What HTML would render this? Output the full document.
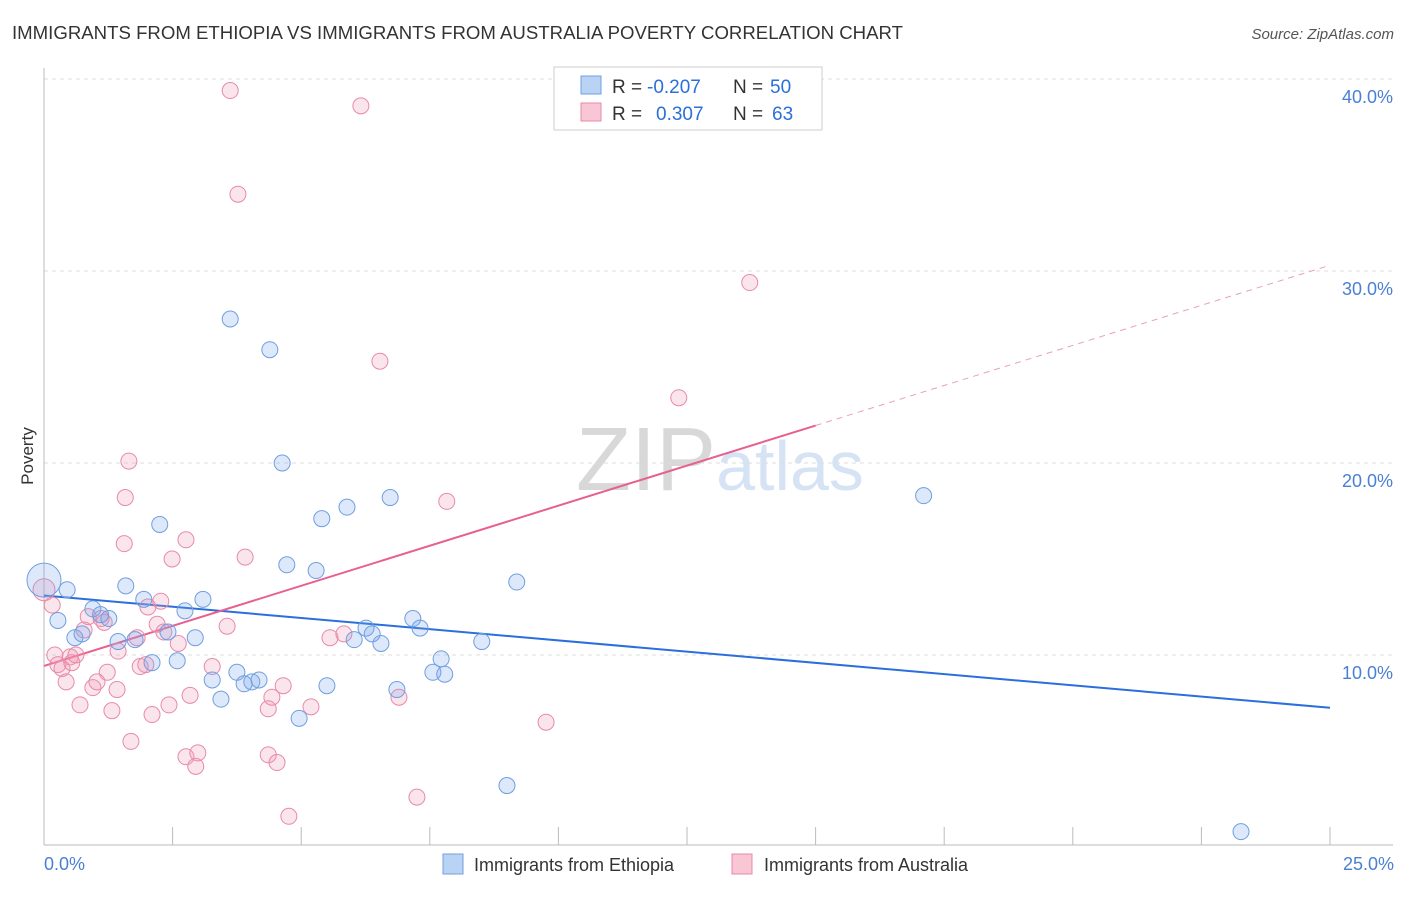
<!DOCTYPE html>
<html><head><meta charset="utf-8"><style>
body{margin:0;background:#fff;font-family:"Liberation Sans",sans-serif;}
svg text{font-family:"Liberation Sans",sans-serif;}
</style></head><body>
<svg id="chart" width="1406" height="892" viewBox="0 0 1406 892" xmlns="http://www.w3.org/2000/svg">
<text x="12" y="39" font-size="18" fill="#333" textLength="891" lengthAdjust="spacingAndGlyphs">IMMIGRANTS FROM ETHIOPIA VS IMMIGRANTS FROM AUSTRALIA POVERTY CORRELATION CHART</text>
<text x="1394" y="39" font-size="15" fill="#555" text-anchor="end" font-style="italic">Source: ZipAtlas.com</text>
<text x="720" y="490" font-size="90" text-anchor="middle" fill="#ddd" font-family="Liberation Serif"><tspan fill="#d8d8d8">ZIP</tspan><tspan fill="#d5e3f5" font-family="Liberation Sans" font-size="70">atlas</tspan></text>
<g id="grid"></g><g id="axes"></g><g id="trend"></g><g id="points"></g>
<text transform="translate(33,456) rotate(-90)" font-size="17" fill="#333" text-anchor="middle">Poverty</text>
<text x="44" y="870" font-size="18" fill="#4a7fd4">0.0%</text>
<text x="1394" y="870" font-size="18" fill="#4a7fd4" text-anchor="end">25.0%</text>
<g>
<rect x="554" y="67" width="268" height="63" fill="#fff" stroke="#ccc"/>
<rect x="581" y="76" width="20" height="18" fill="#b9d3f5" stroke="#6f9fe0"/>
<rect x="581" y="103" width="20" height="18" fill="#f9c6d6" stroke="#e88aa8"/>
<text x="612" y="93" font-size="19" fill="#333">R =</text>
<text x="647" y="93" font-size="19" fill="#2a6fdb">-0.207</text>
<text x="733" y="93" font-size="19" fill="#333">N =</text>
<text x="770" y="93" font-size="19" fill="#2a6fdb">50</text>
<text x="612" y="120" font-size="19" fill="#333">R =</text>
<text x="656" y="120" font-size="19" fill="#2a6fdb">0.307</text>
<text x="733" y="120" font-size="19" fill="#333">N =</text>
<text x="772" y="120" font-size="19" fill="#2a6fdb">63</text>
</g>
<g>
<rect x="443" y="854" width="20" height="20" fill="#b9d3f5" stroke="#6f9fe0"/>
<text x="474" y="871" font-size="18" fill="#333">Immigrants from Ethiopia</text>
<rect x="732" y="854" width="20" height="20" fill="#f9c6d6" stroke="#e88aa8"/>
<text x="764" y="871" font-size="18" fill="#333">Immigrants from Australia</text>
</g>
</svg>
<script>
const yTicks=[10,20,30,40];
const xTicks=[0,2.5,5,7.5,10,12.5,15,17.5,20,22.5,25];
const ethX=[0,0.45,0.27,0.6,0.74,0.95,1.1,1.26,1.44,1.59,1.77,1.94,2.1,2.25,2.41,2.59,2.74,2.94,3.09,3.27,3.44,3.62,3.75,3.89,4.04,4.18,4.39,4.63,4.72,4.96,5.29,5.4,5.5,5.89,6.03,6.26,6.38,6.55,6.73,6.86,7.17,7.31,7.56,7.72,7.79,8.51,9.0,9.19,17.1,23.27];
const ethY=[13.9,13.4,11.8,10.9,11.1,12.4,12.1,11.9,10.7,13.6,10.8,12.9,9.6,16.8,11.2,9.7,12.3,10.9,12.9,8.7,7.7,27.5,9.1,8.5,8.6,8.7,25.9,20.0,14.7,6.7,14.4,17.1,8.4,17.7,10.8,11.4,11.1,10.6,18.2,8.2,11.9,11.4,9.1,9.8,9.0,10.7,3.2,13.8,18.3,0.8];
const ausX=[0,0.16,0.21,0.27,0.35,0.43,0.51,0.54,0.62,0.7,0.78,0.86,0.95,1.03,1.11,1.17,1.23,1.32,1.42,1.44,1.56,1.58,1.65,1.69,1.81,1.87,1.98,2.02,2.1,2.2,2.27,2.33,2.43,2.49,2.61,2.76,2.76,2.84,2.95,2.99,3.27,3.56,3.62,3.77,3.91,4.36,4.36,4.43,4.53,4.65,4.76,5.19,5.56,5.83,6.16,6.53,6.9,7.25,7.83,9.76,12.34,13.72];
const ausY=[13.4,12.6,10.0,9.5,9.3,8.6,9.9,9.6,10.0,7.4,11.3,12.0,8.3,8.6,11.9,11.7,9.1,7.1,8.2,10.2,15.8,18.2,20.1,5.5,10.9,9.4,9.5,12.5,6.9,11.6,12.8,11.2,7.4,15.0,10.6,16.0,4.7,7.9,4.2,4.9,9.4,11.5,39.4,34.0,15.1,7.2,4.8,7.8,4.4,8.4,1.6,7.3,10.9,11.1,38.6,25.3,7.8,2.6,18.0,6.5,23.4,29.4];
const ethLine=[13.1,7.25];
const ausLine=[9.43,30.3];
const X=v=>44+v*51.44, Y=v=>847-v*19.2;
const NS='http://www.w3.org/2000/svg';
function mk(p,t,a){const e=document.createElementNS(NS,t);for(const k in a)e.setAttribute(k,a[k]);document.getElementById(p).appendChild(e);return e;}
yTicks.forEach(t=>{
 const l=mk('grid','line',{x1:44,x2:1393,y1:Y(t),y2:Y(t),stroke:'#ddd','stroke-dasharray':'4,4'});
 
 
 const s=mk('grid','text',{x:1393,y:Y(t)+24,'font-size':18,fill:'#4a7fd4','text-anchor':'end'});
 s.textContent=t.toFixed(1)+'%';
 
 
});
const ax=mk('axes','line',{x1:44,x2:1393,y1:845,y2:845,stroke:'#bbb'});


const ay=mk('axes','line',{x1:44,x2:44,y1:68,y2:845,stroke:'#bbb'});


xTicks.forEach(t=>{
 const l=mk('axes','line',{x1:X(t),x2:X(t),y1:827,y2:845,stroke:'#bbb'});
 
 
});
const be=mk('trend','line',{x1:X(0),y1:Y(ethLine[0]),x2:X(25),y2:Y(ethLine[1]),stroke:'#2a6fdb','stroke-width':2});


const ay15=ausLine[0]+(ausLine[1]-ausLine[0])*15/25;
const pa=mk('trend','line',{x1:X(0),y1:Y(ausLine[0]),x2:X(15),y2:Y(ay15),stroke:'#e8608f','stroke-width':2});


const pd=mk('trend','line',{x1:X(15),y1:Y(ay15),x2:X(25),y2:Y(ausLine[1]),stroke:'#e8a0b8','stroke-width':1,'stroke-dasharray':'6,5'});


ausX.forEach((x,i)=>{
 const c=mk('points','circle',{cx:X(x),cy:Y(ausY[i]),r:i==0?11:8,fill:'rgba(240,150,180,0.25)',stroke:'#e88aa8','stroke-width':1});
 
 
});
ethX.forEach((x,i)=>{
 const c=mk('points','circle',{cx:X(x),cy:Y(ethY[i]),r:i==0?17:8,fill:'rgba(120,165,235,0.25)',stroke:'#6f9fe0','stroke-width':1});
 
 
});
</script>
</body></html>
